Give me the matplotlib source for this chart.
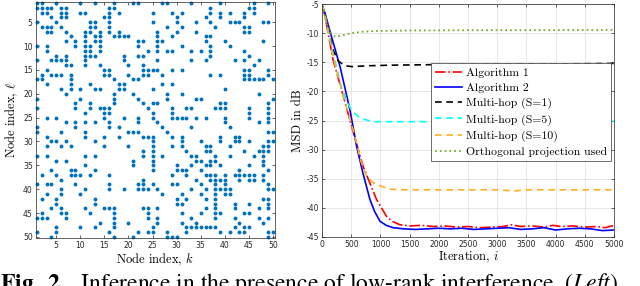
import numpy as np
import matplotlib
matplotlib.use("Agg")
import matplotlib.pyplot as plt

plt.rcParams['mathtext.fontset'] = 'cm'
plt.rcParams['axes.unicode_minus'] = False

# ---- left panel: neighbour columns per row (rows 1..50) ----
adj_cols = [
    [1, 2, 5, 10, 13, 17, 21, 22, 27, 28, 33, 39, 46, 49],
    [1, 2, 3, 4, 6, 7, 16, 17, 37, 45, 46],
    [2, 3, 6, 7, 10, 11, 16, 18, 25, 29, 31, 37, 39, 41, 44, 46],
    [4, 6, 7, 15, 16, 30, 36, 39, 44],
    [1, 5, 12, 13, 16, 25, 30, 34, 37, 41, 42, 43, 48, 49],
    [2, 3, 4, 6, 12, 13, 16, 28, 31, 38, 44, 45],
    [3, 4, 7, 11, 12, 14, 16, 18, 26, 30, 34, 44, 45],
    [8, 11, 13, 14, 17, 18, 19, 20, 26, 29, 36, 37],
    [7, 9, 11, 13, 14, 22, 23, 26, 27, 36, 40, 48],
    [1, 3, 9, 11, 12, 14, 22, 26, 31, 37, 41],
    [3, 11, 12, 14, 24, 26, 28, 29, 33, 35, 37, 44],
    [5, 7, 11, 12, 13, 19, 22, 23, 37, 45],
    [1, 4, 5, 6, 7, 11, 19, 26, 33, 36, 42, 44, 47],
    [7, 8, 11, 14, 20, 23, 46],
    [3, 15, 16, 23, 24, 25, 26, 29, 31, 44, 45, 49],
    [2, 4, 5, 6, 8, 15, 16, 20, 23, 24, 27, 37, 39, 44, 45, 49],
    [1, 2, 8, 17, 21, 22, 44, 45, 46, 47, 48, 50],
    [3, 8, 12, 18, 19, 27, 29],
    [6, 8, 10, 13, 14, 18, 19, 25, 40],
    [7, 17, 21, 28, 31, 47],
    [1, 10, 17, 22, 28, 34, 35, 50],
    [9, 12, 17, 23, 25, 26, 39, 40, 49],
    [1, 9, 12, 14, 15, 16, 24, 29, 32, 33, 38, 39, 40, 45, 49],
    [11, 15, 16, 25, 29, 45, 49],
    [3, 5, 15, 19, 22, 25, 29, 30, 31, 32, 34, 36, 40, 45, 49],
    [7, 9, 11, 13, 16, 22, 26, 40, 47, 49],
    [1, 9, 16, 18, 27, 33, 41],
    [1, 6, 11, 20, 21, 22, 28, 49, 50],
    [3, 11, 15, 18, 23, 24, 25, 29, 31, 39, 42, 43],
    [4, 5, 7, 13, 25, 31, 35, 39, 42, 43, 45, 49, 50],
    [3, 6, 8, 15, 20, 25, 29, 31, 36, 37, 41, 48, 49],
    [23, 25, 32, 36, 37, 44, 47, 48, 49],
    [1, 3, 11, 13, 23, 25, 27, 33, 34, 38, 41, 46, 48],
    [5, 7, 21, 25, 34, 35, 37, 38, 48],
    [11, 21, 25, 30, 33, 36, 37, 39, 45, 48],
    [4, 8, 9, 13, 25, 30, 31, 32, 35, 43, 49],
    [2, 5, 8, 9, 10, 12, 16, 29, 32, 36, 37, 38, 40, 42, 43, 44, 45, 46, 48],
    [6, 23, 34, 37, 38, 39, 40, 43, 45, 46, 48],
    [1, 3, 4, 9, 16, 22, 23, 25, 29, 30, 35, 38, 40, 49],
    [6, 11, 16, 19, 22, 23, 24, 26, 33, 36, 38, 39, 40, 41, 49, 50],
    [3, 6, 10, 27, 31, 35, 38, 40, 41],
    [2, 5, 13, 30, 32, 36, 38, 48, 49],
    [5, 13, 30, 31, 38, 42, 45, 49],
    [4, 6, 11, 15, 16, 17, 23, 24, 26, 36, 38, 42, 47, 49],
    [2, 6, 7, 12, 17, 24, 31, 35, 38, 39, 44, 45],
    [1, 2, 3, 7, 17, 24, 26, 33, 38, 42, 47, 49],
    [14, 17, 20, 26, 31, 34, 43, 48],
    [5, 10, 13, 17, 25, 32, 33, 34, 35, 36, 37, 38, 42, 44, 45],
    [1, 5, 16, 22, 24, 25, 28, 32, 39, 41, 43, 44, 49, 50],
    [4, 17, 21, 28, 29, 30, 49],
]

# ---- right panel: MSD curves (iteration, dB) ----
alg1_i = [0, 50, 190, 337, 537, 705, 850, 936, 1107, 1200, 1336, 1500, 1700, 1900, 2100, 2300,
          2500, 2700, 2900, 3100, 3250, 3400, 3600, 3800, 3950, 4100, 4300, 4500, 4700, 4850, 5000]
alg1_db = [-5.2, -7.0, -14.6, -19.8, -27.1, -32.9, -36.5, -38.6, -41.5, -42.3, -42.9, -43.1, -43.0,
           -43.2, -43.1, -43.3, -43.2, -43.4, -43.3, -43.2, -42.9, -43.2, -43.1, -43.3, -43.0, -43.2,
           -43.1, -43.3, -43.2, -43.4, -43.0]

alg2_i = [0, 50, 137, 308, 479, 594, 700, 822, 900, 993, 1100, 1216, 1400, 1600, 1800, 2000, 2200,
          2400, 2600, 2800, 3000, 3200, 3400, 3600, 3800, 4000, 4200, 4400, 4600, 4800, 5000]
alg2_db = [-5.2, -6.5, -9.7, -15.7, -23.2, -29.5, -34.0, -38.6, -40.6, -42.3, -43.0, -43.4, -43.6,
           -43.7, -43.6, -43.5, -43.6, -43.5, -43.7, -43.6, -43.5, -43.4, -43.7, -43.6, -43.4, -43.8,
           -43.6, -43.5, -43.6, -43.9, -43.8]

s1_i = [0, 50, 120, 190, 280, 394, 513, 800, 1200, 2000, 3000, 4000, 5000]
s1_db = [-5.2, -6.8, -10.0, -12.9, -14.8, -15.6, -15.75, -15.6, -15.5, -15.4, -15.3, -15.3, -15.2]

s5_i = [0, 50, 190, 337, 422, 500, 650, 873, 1200, 2000, 3000, 4000, 5000]
s5_db = [-5.2, -6.8, -13.5, -19.5, -21.5, -23.2, -24.6, -25.2, -25.2, -25.2, -25.2, -25.2, -25.1]

s10_i = [0, 50, 190, 337, 537, 616, 650, 750, 850, 936, 1164, 1400, 2000, 2500, 3000, 3300, 3500,
         4000, 4500, 5000]
s10_db = [-5.2, -7.0, -14.0, -19.8, -26.8, -29.8, -31.5, -34.3, -35.5, -36.0, -36.8, -36.9, -36.9,
          -36.9, -36.9, -37.1, -36.9, -36.9, -36.9, -36.9]

orth_i = [0, 60, 130, 223, 350, 500, 700, 936, 1500, 2500, 3500, 5000]
orth_db = [-5.2, -7.5, -9.8, -10.6, -10.4, -10.0, -9.75, -9.63, -9.55, -9.5, -9.5, -9.45]

labels = ['Algorithm 1', 'Algorithm 2', 'Multi-hop (S=1)', 'Multi-hop (S=5)',
          'Multi-hop (S=10)', 'Orthogonal projection used']

fig = plt.figure(figsize=(6.4, 2.86), dpi=100)

tick_kw = dict(direction='in', top=True, right=True, length=2.5, width=0.5,
               labelsize=5.5, colors='#262626', pad=2)

# left: spy plot
axl = fig.add_axes([35.5 / 640, 1 - 238.4 / 286, 239 / 640, 236.8 / 286])
rr = [r + 1 for r, cols in enumerate(adj_cols) for c in cols]
cc = [c for cols in adj_cols for c in cols]
axl.plot(cc, rr, 'o', color='#0072bd', markersize=2.8, markeredgewidth=0, clip_on=False)
axl.set_xlim(0.7, 50.3)
axl.set_ylim(50.3, 0.7)
axl.set_xticks(range(5, 51, 5))
axl.set_yticks(range(5, 51, 5))
axl.tick_params(**tick_kw)
for s in axl.spines.values():
    s.set_linewidth(0.5)
    s.set_color('#262626')
axl.set_xlabel(r'Node index, $k$', family='cmr10', fontsize=9, labelpad=1)
axl.set_ylabel(r'Node index, $\ell$', family='cmr10', fontsize=9, labelpad=2)

# right: MSD curves
axr = fig.add_axes([322 / 640, 1 - 237 / 286, 292 / 640, 233 / 286])
axr.plot(alg1_i, alg1_db, '-.', color='#ff0000', lw=1.2, label=labels[0])
axr.plot(alg2_i, alg2_db, '-', color='#0000ff', lw=1.2, label=labels[1])
axr.plot(s1_i, s1_db, '--', color='black', lw=1.2, dashes=(4, 2.8), label=labels[2])
axr.plot(s5_i, s5_db, '--', color='#00ffff', lw=1.2, dashes=(4, 2.8), label=labels[3])
axr.plot(s10_i, s10_db, '--', color='#fdb021', lw=1.2, dashes=(4, 2.8), label=labels[4])
axr.plot(orth_i, orth_db, ':', color='#77ac30', lw=1.3, label=labels[5])
axr.set_xlim(0, 5000)
axr.set_ylim(-45, -5)
axr.set_xticks(range(0, 5001, 500))
axr.set_yticks(range(-45, -4, 5))
axr.grid(True, color='#dddddd', lw=0.5)
axr.set_axisbelow(True)
axr.tick_params(**tick_kw)
for s in axr.spines.values():
    s.set_linewidth(0.5)
    s.set_color('#262626')
axr.set_xlabel(r'Iteration, $i$', family='cmr10', fontsize=9, labelpad=1)
axr.set_ylabel('MSD in dB', family='cmr10', fontsize=9, labelpad=2)
leg = axr.legend(loc='upper right', bbox_to_anchor=(0.99, 0.745), prop={'family': 'cmr10', 'size': 8.5},
                 handlelength=2.3, handletextpad=0.3, labelspacing=0.42, borderpad=0.35,
                 borderaxespad=0, fancybox=False, framealpha=1, edgecolor='#555555')
leg.get_frame().set_linewidth(0.6)

# caption (cut off at the bottom as in the source)
fig.text(0.0, -4 / 286, r'$\mathbf{Fig.\ 2.}$  Inference in the presence of low-rank interference. $\mathit{(Left)}$',
         family='STIXGeneral', math_fontfamily='stix', fontsize=17, va='baseline', ha='left')

fig.savefig('out.png', dpi=100)
